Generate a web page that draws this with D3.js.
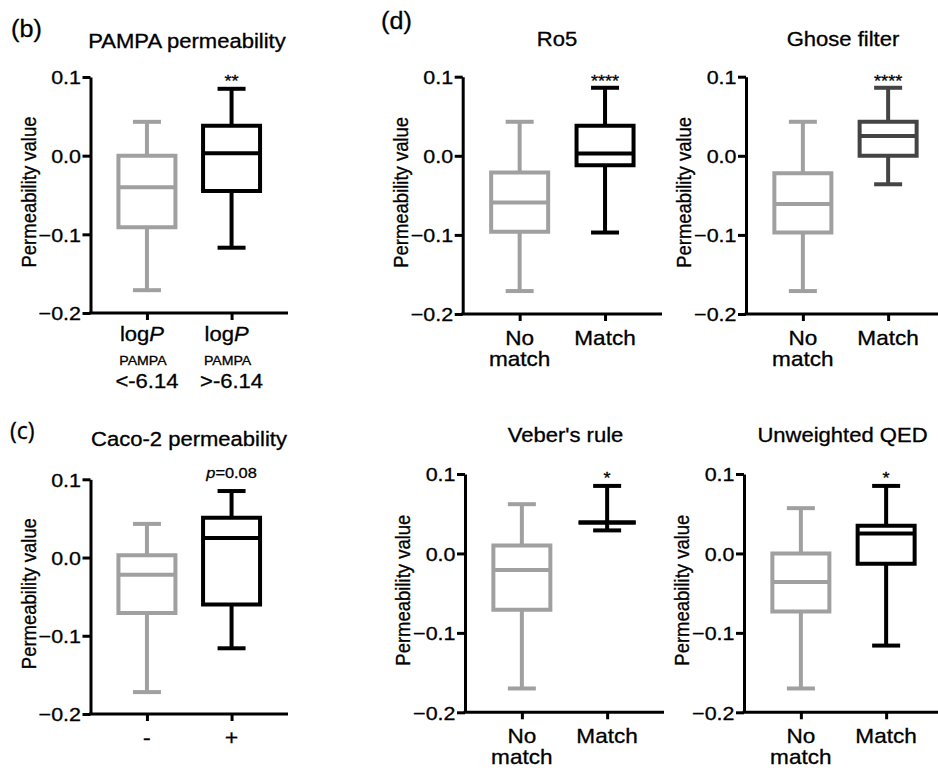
<!DOCTYPE html>
<html><head><meta charset="utf-8">
<script src="https://cdn.jsdelivr.net/npm/d3@7"></script>
<style>
body{margin:0;background:#fff}
svg{display:block}
text{font-family:"Liberation Sans",Arial,Helvetica,sans-serif;fill:#000;stroke:#000;stroke-width:0.3px}
</style>
</head><body>
<svg id="chart" width="938" height="771"></svg>
<script>
// ---------------- data ----------------
const yTicks = [-0.2, -0.1, 0.0, 0.1];
const statKeys = ["min", "q1", "median", "q3", "max"];

const pampaCats = ["<-6.14", ">-6.14"];
const caco2Cats = ["-", "+"];
const matchCats = ["No match", "Match"];

// [min, q1, median, q3, max] per group
const pampaStats = [[-0.171, -0.091, -0.040, 0.000, 0.043], [-0.117, -0.045, 0.003, 0.038, 0.085]];
const caco2Stats = [[-0.172, -0.071, -0.022, 0.003, 0.043], [-0.116, -0.060, 0.025, 0.051, 0.085]];
const ro5Stats   = [[-0.171, -0.096, -0.059, -0.021, 0.043], [-0.097, -0.012, 0.003, 0.038, 0.086]];
const ghoseStats = [[-0.171, -0.097, -0.061, -0.022, 0.043], [-0.036, 0.000, 0.025, 0.043, 0.086]];
const veberStats = [[-0.170, -0.071, -0.021, 0.010, 0.062], [0.029, 0.039, 0.039, 0.039, 0.085]];
const qedStats   = [[-0.170, -0.073, -0.036, 0.000, 0.057], [-0.116, -0.013, 0.025, 0.035, 0.085]];

const panelTitles = ["PAMPA permeability", "Caco-2 permeability", "Ro5", "Ghose filter", "Veber's rule", "Unweighted QED"];
const significance = ["**", "p=0.08", "****", "****", "*", "*"];
const panelLetters = ["(b)", "(c)", "(d)"];
const yLabel = "Permeability value";

// ---------------- styles ----------------
const GRAY = "#a0a0a0", BLACK = "#000000", DARK = "#444444";
const SX = 1.13;           // horizontal stretch of text in reference
const FS = 19;

const svg = d3.select("#chart");

function stext(g, x, y, str, size, anchor, sx) {
  const t = g.append("text")
    .attr("transform", `translate(${x},${y}) scale(${sx || SX},1)`)
    .attr("text-anchor", anchor || "middle")
    .style("font-size", size + "px");
  if (str !== null) t.text(str);
  return t;
}

function drawPanel(cfg) {
  const g = svg.append("g");
  const y = d3.scaleLinear().domain([-0.2, 0.1]).range([cfg.yBot, cfg.yTop]);
  const x = d3.scalePoint().domain(cfg.cats).range([cfg.axisX, cfg.xEnd]).padding(0.667);

  // y axis
  const ya = g.append("g").attr("transform", `translate(${cfg.axisX},0)`)
    .call(d3.axisLeft(y).tickValues(yTicks).tickSize(8).tickSizeOuter(0).tickPadding(2).tickFormat(d3.format(".1f")));
  ya.select(".domain").attr("stroke", "#000").attr("stroke-width", 3);
  ya.selectAll(".tick line").attr("stroke", "#000").attr("stroke-width", 3);
  ya.selectAll(".tick text").attr("fill", "#000").style("font-size", FS + "px")
    .style("font-family", '"Liberation Sans",Arial,sans-serif')
    .attr("transform", `scale(${SX},1)`).attr("x", -9.5 / SX).attr("dy", "0.36em");

  // x axis
  const xa = g.append("g").attr("transform", `translate(0,${cfg.yBot})`)
    .call(d3.axisBottom(x).tickSize(7).tickSizeOuter(0).tickFormat(""));
  xa.select(".domain").attr("stroke", "#000").attr("stroke-width", 3).attr("d", `M${cfg.axisX - 1.5},0H${cfg.xEnd}`);
  xa.selectAll(".tick line").attr("stroke", "#000").attr("stroke-width", 3);

  // boxes
  const hw = 28.5, cw = 14;
  cfg.stats.forEach((s, i) => {
    const [mn, q1, md, q3, mx] = s;
    const cx = x(cfg.cats[i]);
    const col = cfg.colors[i];
    const bg = g.append("g").attr("stroke", col).attr("stroke-width", 4).attr("fill", "none");
    bg.append("line").attr("x1", cx).attr("x2", cx).attr("y1", y(q3)).attr("y2", y(mx));
    bg.append("line").attr("x1", cx).attr("x2", cx).attr("y1", y(q1)).attr("y2", y(mn));
    bg.append("line").attr("x1", cx - cw).attr("x2", cx + cw).attr("y1", y(mx)).attr("y2", y(mx));
    bg.append("line").attr("x1", cx - cw).attr("x2", cx + cw).attr("y1", y(mn)).attr("y2", y(mn));
    bg.append("path").attr("fill", q3 > q1 ? "#fff" : "none")
      .attr("d", `M${cx - hw},${y(q3)}H${cx + hw}V${y(q1)}H${cx - hw}Z`);
    bg.append("line").attr("x1", cx - hw).attr("x2", cx + hw).attr("y1", y(md)).attr("y2", y(md));
  });

  // title
  stext(g, cfg.titleX, cfg.titleY, panelTitles[cfg.idx], FS + 0.5, "middle");

  // y label
  g.append("text")
    .attr("transform", `translate(${cfg.axisX - 55},${(cfg.yTop + cfg.yBot) / 2 - 3}) scale(${SX},1) rotate(-90)`)
    .attr("text-anchor", "middle").style("font-size", "18.5px").text(yLabel);

  // significance
  const sig = significance[cfg.idx];
  const sx2 = x(cfg.cats[1]);
  if (sig.startsWith("p=")) {
    const t = stext(g, sx2, cfg.yTop - 1, null, 14.5, "middle");
    t.append("tspan").style("font-style", "italic").text("p");
    t.append("tspan").text(sig.slice(1));
  } else {
    stext(g, sx2, cfg.yTop + 10, sig, 16, "middle");
  }

  // x labels
  cfg.xlabels(g, x, cfg);
}

function pampaLabels(g, x, cfg) {
  cfg.cats.forEach((c, i) => {
    const cx = x(c);
    const t = stext(g, cx - 5, cfg.yBot + 28, null, 19.5, "middle");
    t.append("tspan").text("log");
    t.append("tspan").style("font-style", "italic").text("P");
    stext(g, cx - 4, cfg.yBot + 52, "PAMPA", 12.5, "middle");
    stext(g, cx, cfg.yBot + 75, c, 19.5, "middle");
  });
}
function signLabels(g, x, cfg) {
  cfg.cats.forEach(c => {
    stext(g, x(c), cfg.yBot + 31, c, 21, "middle").style("font-family", '"Open Sans",sans-serif');
  });
}
function matchLabels(g, x, cfg) {
  cfg.cats.forEach(c => {
    const words = c.split(" ");
    words.forEach((w, j) => stext(g, x(c), cfg.yBot + 31 + j * 21, w, 20, "middle"));
  });
}

const panels = [
  {idx: 0, cats: pampaCats, stats: pampaStats, colors: [GRAY, BLACK], axisX: 90.5, xEnd: 288, yTop: 77, yBot: 313, titleX: 187, titleY: 48, xlabels: pampaLabels},
  {idx: 1, cats: caco2Cats, stats: caco2Stats, colors: [GRAY, BLACK], axisX: 90.5, xEnd: 288, yTop: 479.3, yBot: 714, titleX: 189, titleY: 446, xlabels: signLabels},
  {idx: 2, cats: matchCats, stats: ro5Stats, colors: [GRAY, BLACK], axisX: 462.7, xEnd: 662, yTop: 76.7, yBot: 314, titleX: 557, titleY: 46, xlabels: matchLabels},
  {idx: 3, cats: matchCats, stats: ghoseStats, colors: [GRAY, DARK], axisX: 746, xEnd: 945, yTop: 76.7, yBot: 314, titleX: 843, titleY: 46, xlabels: matchLabels},
  {idx: 4, cats: matchCats, stats: veberStats, colors: [GRAY, BLACK], axisX: 465, xEnd: 664, yTop: 474, yBot: 712.3, titleX: 565.5, titleY: 442, xlabels: matchLabels},
  {idx: 5, cats: matchCats, stats: qedStats, colors: [GRAY, BLACK], axisX: 744, xEnd: 943, yTop: 474, yBot: 712.3, titleX: 842.5, titleY: 442, xlabels: matchLabels}
];
panels.forEach(drawPanel);

// panel letters
stext(svg, 11, 37, panelLetters[0], 24, "start", 1.05);
stext(svg, 10, 439, panelLetters[1], 23, "start", 1.0).style("font-family", '"Open Sans",sans-serif');
stext(svg, 381, 29, panelLetters[2], 24, "start", 1.05);
</script>
</body></html>
